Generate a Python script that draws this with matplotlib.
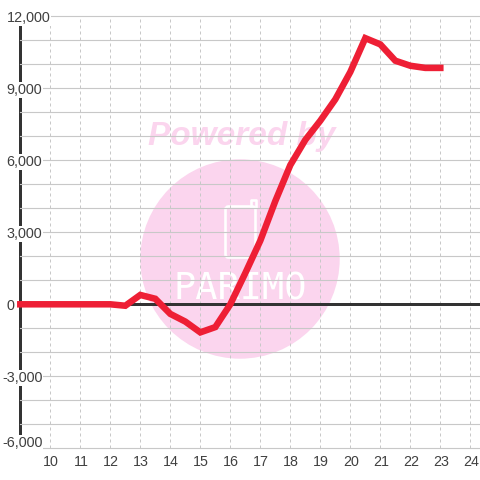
import matplotlib
matplotlib.use("Agg")
import matplotlib.pyplot as plt
from matplotlib.patches import Circle, FancyBboxPatch
from matplotlib.transforms import Affine2D, ScaledTranslation

hours = [9, 9.5, 10, 10.5, 11, 11.5, 12, 12.5, 13, 13.5, 14, 14.5, 15, 15.5, 16,
         16.5, 17, 17.5, 18, 18.5, 19, 19.5, 20, 20.5, 21, 21.5, 22, 22.5, 23]
values = [0, 0, 0, 0, 0, 0, 0, -60, 390, 230, -400, -720, -1170, -950, 0,
          1300, 2650, 4300, 5800, 6850, 7650, 8540, 9680, 11090, 10830, 10150, 9940, 9850, 9850]
x_ticks = list(range(10, 25))
y_major = [12000, 9000, 6000, 3000, 0, -3000, -6000]
y_labels = ["12,000", "9,000", "6,000", "3,000", "0", "-3,000", "-6,000"]
y_minor = [11000, 10000, 8000, 7000, 5000, 4000, 2000, 1000, -1000, -2000, -4000, -5000]

TXT = "#404040"
GRID = "#c8c8c8"
PINK = "#fbd5ee"
DARK = "#333333"
RED = "#ee1f35"

plt.rcParams["font.family"] = ["Liberation Sans", "DejaVu Sans"]
fig = plt.figure(figsize=(4.8, 4.8), dpi=100)
ax = fig.add_axes([20.3 / 480, 31.7 / 480, 459.7 / 480, 432 / 480])
ax.set_xlim(9, 24.323)
ax.set_ylim(-6000, 12000)
ax.set_axisbelow(True)

# watermark in pixel coordinates
px = Affine2D().scale(1 / 480, -1 / 480).translate(0, 1) + fig.transFigure
ax.add_patch(Circle((240, 259), 99.7, transform=px, fc=PINK, ec="none", zorder=0.1, clip_on=False))
ax.add_patch(FancyBboxPatch((225.5, 206.5), 30, 51, boxstyle="round,pad=0,rounding_size=3", transform=px,
                            fc="none", ec="white", lw=1.9, zorder=0.2, clip_on=False))
ax.plot([251, 251, 255.5, 255.5], [207, 200, 200, 207], transform=px, color="white", lw=1.9, zorder=0.2)
ax.text(240, 289, "PARIMO", transform=px, family="DejaVu Sans Mono", fontsize=26.6, color="white",
        ha="center", va="center", zorder=0.2)
ax.text(242, 137, "Powered by", transform=px, fontsize=24, fontweight="bold", fontstyle="italic",
        color=PINK, ha="center", va="center", zorder=0.2)

# axes furniture
for s in ["top", "right", "bottom"]:
    ax.spines[s].set_visible(False)
ax.spines["left"].set_linewidth(2.16)
ax.spines["left"].set_color(DARK)
ax.spines["left"].set_zorder(0.4)
ax.axhline(0, color=DARK, lw=2.16, zorder=1)

ax.set_xticks(x_ticks)
ax.set_yticks(y_major, y_labels)
ax.set_yticks(y_minor, minor=True)
ax.tick_params(axis="both", which="both", length=0)
ax.tick_params(axis="x", labelsize=10.3, labelcolor=TXT, pad=4.5)
ax.tick_params(axis="y", labelsize=10.4, labelcolor=TXT, pad=10)
ax.grid(True, axis="y", which="both", color=GRID, lw=0.8, clip_on=False)
ax.grid(True, axis="x", which="major", color=GRID, lw=0.72, ls=(0, (3, 3)), clip_on=False)

for val, lab in zip(y_major, ax.get_yticklabels()):
    lab.set_ha("left")
    lab.set_bbox(dict(fc="white", ec="none", pad=0.8))
    dx = -4.5 / 100 if val < 0 else 0
    dy = 7 / 100 if val == -6000 else 0
    lab.set_transform(lab.get_transform() + ScaledTranslation(dx, dy, fig.dpi_scale_trans))

for lab in ax.get_xticklabels():
    lab.set_transform(lab.get_transform() + ScaledTranslation(1 / 100, 0, fig.dpi_scale_trans))

ax.plot(hours, values, color=RED, lw=4.7, solid_capstyle="projecting", solid_joinstyle="miter",
        zorder=3, clip_on=False)

fig.savefig("out.png", dpi=100)
